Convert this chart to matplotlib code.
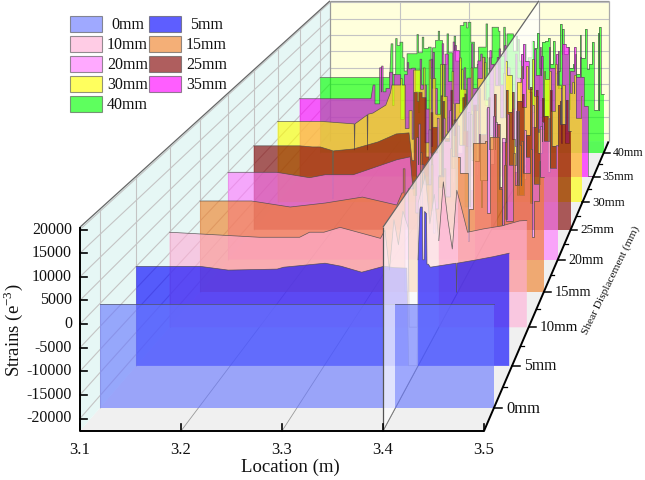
import numpy as np
import matplotlib
matplotlib.use("Agg")
import matplotlib.pyplot as plt
from matplotlib.patches import Rectangle

plt.rcParams['font.family'] = ['Liberation Serif', 'DejaVu Serif']

# ---------- data ----------
spike_loc = [3.200,3.205,3.210,3.215,3.220,3.225,3.230,3.235,3.240,3.245,
             3.250,3.255,3.260,3.265,3.270,3.275,3.280,3.285,3.290,3.295,
             3.300,3.305,3.310,3.315,3.320,3.325,3.330,3.335,3.340,3.345,
             3.350,3.355,3.360,3.365,3.370,3.375,3.380,3.385,3.390,3.395,
             3.400,3.405,3.410,3.415,3.420,3.425,3.430,3.435,3.440,3.445,
             3.450,3.455,3.460,3.465,3.470,3.475,3.480,3.485,3.490,3.495,3.500]

displacements = [0, 5, 10, 15, 20, 25, 30, 35, 40]
labels = ['0mm','5mm','10mm','15mm','20mm','25mm','30mm','35mm','40mm']
colors = ['#6878FF','#0000FF','#FFAFD7','#EF8028','#FF78FF','#800000','#FFFF00','#FF00FF','#00FF00']

loc_0 = [3.1, 3.5]
val_0 = [0, 0]

loc_5 = [3.1,3.168,3.198,3.25,3.257,3.301,3.318,3.34,3.364,3.375,3.388,3.39,3.399,3.4,3.402,3.4025,3.4045,3.405,3.4065,3.407,3.409,3.4095,3.411,
         3.413,3.4405,3.441,3.4415,3.46,3.48,3.497]
val_5 = [0,0,-850,-620,-190,720,40,-1330,40,-300,-400,-22600,-22600,1500,13000,13500,13500,1500,1500,12500,12000,500,500,
         -190,720,-5900,720,1400,2200,3000]

loc_10 = [3.1,3.2,3.245,3.256,3.272,3.29,3.335,3.34,3.345,3.35,3.355,3.36,3.366,3.367,3.376,3.377,3.385,3.39,3.395,3.40,
          3.405,3.41,3.415,3.42,3.425,3.432,3.45,3.47,3.49,3.498]
val_10 = [0,-1200,-1200,0,0,1160,-1460,500,-9000,3000,-3000,5000,1000,-22600,-22600,7000,13500,2000,9000,-2000,
          12000,3000,-4000,10000,6000,0,800,1500,2700,2800]

smooth_loc_15 = [3.1,3.16,3.205,3.246,3.289,3.329]
smooth_val_15 = [0,0,-1500,-500,970,-1010]
spikes_15 = [2000,-22600,3000,5000,-3000,7000,4000,9000,-2000,6000,8000,1000,11000,11000,
             6900,6900,-2000,14300,14300,14300,-3000,16000,16000,3000,9000,-5000,12000,4000,15000,
             7000,13000,0,10000,6000]
needle_loc_15 = [3.3375,3.3575,3.3725,3.3925,3.4125,3.4325,3.4525,3.4725,3.4875]
needle_val_15 = [8000,12000,-8000,13000,-10000,15000,-6000,14000,-9000]

smooth_loc_20 = [3.1,3.159,3.199,3.218,3.252,3.305,3.321]
smooth_val_20 = [0,0,-1400,-630,-630,3260,4000]
spikes_20 = [-6000,9000,2000,-12000,11000,5000,14000,-4000,8000,16000,1000,12000,7000,-9000,15000,
             3000,10000,-2000,17000,6000,13000,-14000,9000,15000,2000,16000,-6000,11000,4000,17500,
             -3000,12000,8000,14000,1000,7000]
needle_loc_20 = [3.3325,3.3475,3.3625,3.3775,3.3925,3.4075,3.4225,3.4375,3.4525,3.4675,3.4825]
needle_val_20 = [12500,-10000,14000,-13000,15500,-9000,14500,-12000,16000,-8000,13000]

smooth_loc_25 = [3.1,3.158,3.174,3.184,3.1995,3.2,3.2005,3.226,3.257,3.28,3.296]
smooth_val_25 = [0,0,-300,-300,-1300,-14300,-1370,-840,1060,3210,3500]
spikes_25 = [-4000,14400,14400,13000,-3000,9000,5000,-8000,12000,2000,15000,7000,-2000,
             13000,4000,-12000,11000,15500,3000,10000,-5000,14000,6000,1000,15000,9000,-7000,
             12000,14000,3000,16000,5000,-2000,13000,8000,15000,0,11000,6000,12500,4000]
needle_loc_25 = [3.3075,3.3225,3.3375,3.3525,3.3675,3.3825,3.3975,3.4125,3.4275,3.4425,3.4575,3.4725,3.4875]
needle_val_25 = [12000,-9000,13500,-10000,14000,-8000,13000,-11000,14500,-9000,15000,-7000,12000]

smooth_loc_30 = [3.1,3.157,3.2005,3.201,3.2015,3.2175,3.218,3.2185,3.225,3.242,3.248]
smooth_val_30 = [0,0,-700,-8000,-700,1800,-8000,2000,2330,4570,8000]
spikes_30 = [10200,10200,10200,10200,-2000,3000,14400,14400,9000,-6000,17200,12000,2000,
             16000,7000,-3000,14000,5000,17800,9000,-7000,15000,3000,12000,18000,6000,-4000,
             16000,10000,1000,17000,13000,-5000,11000,15500,4000,9000,17500,7000,-2000,
             14000,12000,3000,16000,10200,10200,-6000,8000,13000,1000,7000]
needle_loc_30 = [3.2625,3.2775,3.2925,3.3025,3.3175,3.3325,3.3425,3.3575,3.3725,3.3825,3.3975,3.4125,3.4275,3.4425,3.4575,3.4725,3.4875]
needle_val_30 = [12000,-5000,15000,-7000,16000,-4000,14500,-8000,16500,-5000,13500,-7000,15500,-3000,14000,-6000,11000]

smooth_loc_35 = [3.1,3.197]
smooth_val_35 = [0,0]
spikes_35 = [4000,-1500,9000,2000,3000,7700,7000,7000,-6000,7000,8700,8900,2000,11500,4000,-3000,
             11500,3000,-5000,16000,13000,5000,16500,14000,-4000,9000,6000,16000,3000,11000,12000,
             -2000,14000,10000,12000,4000,15500,9000,-3000,13000,6000,16000,11000,2000,14500,
             7000,12500,-5000,15000,9000,13000,3000,16000,15000,8000,15000,6300,6300,-2000,-22600,-22600]
needle_loc_35 = [3.2125,3.2275,3.2475,3.2625,3.2825,3.2975,3.3125,3.3275,3.3475,3.3575,3.3725,3.3875,3.4025,3.4175,3.4275,3.4375,3.4525,3.4675,3.4825]
needle_val_35 = [9500,-2000,10500,-4000,13500,-6000,15500,-3000,13000,-5000,14500,-7000,13000,-4000,15000,-6000,14000,-3000,12000]

smooth_loc_40 = [3.1,3.198]
smooth_val_40 = [0,0]
spikes_40 = [10200,1000,9700,10700,2000,7200,7200,7200,7500,12200,8800,9200,9000,11200,11200,4000,
             13200,7500,12500,5000,15700,16700,16700,10700,3000,9200,9200,16200,6000,15200,15200,
             6500,15200,13200,13200,8000,11500,5000,10000,6000,11000,9000,3000,10700,11000,4000,
             11200,2000,16200,7000,9200,3000,7200,1000,6000,14700,4000,10700,-9900,15200,-5000]
needle_loc_40 = [3.2075,3.2175,3.2375,3.2575,3.2675,3.2875,3.3075,3.3225,3.3375,3.3525,3.3625,3.3775,3.3925,3.4075,3.4225,3.4325,3.4425,3.4575,3.4675,3.4775,3.4925]
needle_val_40 = [11800,6000,13000,3000,14000,2000,15000,4000,1000,14000,3000,12500,2000,13500,12000,1500,14800,4000,12800,2500,13500]


def stepped(smooth_loc, smooth_val, vals, nloc, nval):
    """Turn the spiky tail into vertical-walled plateaus with thin needles."""
    locs = spike_loc[-len(vals):]
    n = len(vals)
    peak = [0 < i < n - 1 and vals[i] > vals[i-1] + 1500 and vals[i] > vals[i+1] + 1500 for i in range(n)]
    out_x, out_y = list(smooth_loc), list(smooth_val)
    left = locs[0]
    for i in range(n):
        if i == n - 1:
            right = locs[i]
        elif peak[i]:
            right = locs[i] + 0.0011
        elif peak[i + 1]:
            right = locs[i + 1] - 0.0011
        else:
            right = (locs[i] + locs[i + 1]) / 2
        out_x += [left, right]
        out_y += [vals[i], vals[i]]
        left = right
    base_x, base_y = np.array(out_x), np.array(out_y)
    keep = np.ones(len(base_x), bool)
    add_x, add_y = [], []
    hw = 0.001
    for l, v in zip(nloc, nval):
        keep &= ~((base_x > l - hw) & (base_x < l + hw))
        a, b = np.interp([l - hw, l + hw], base_x, base_y)
        add_x += [l - hw, l - hw, l + hw, l + hw]
        add_y += [float(a), v, v, float(b)]
    xs = np.r_[base_x[keep], add_x]
    ys = np.r_[base_y[keep], add_y]
    order = np.argsort(xs, kind='stable')
    return xs[order], ys[order]


loc_15, val_15 = stepped(smooth_loc_15, smooth_val_15, spikes_15, needle_loc_15, needle_val_15)
loc_20, val_20 = stepped(smooth_loc_20, smooth_val_20, spikes_20, needle_loc_20, needle_val_20)
loc_25, val_25 = stepped(smooth_loc_25, smooth_val_25, spikes_25, needle_loc_25, needle_val_25)
loc_30, val_30 = stepped(smooth_loc_30, smooth_val_30, spikes_30, needle_loc_30, needle_val_30)
loc_35, val_35 = stepped(smooth_loc_35, smooth_val_35, spikes_35, needle_loc_35, needle_val_35)
loc_40, val_40 = stepped(smooth_loc_40, smooth_val_40, spikes_40, needle_loc_40, needle_val_40)

series = [(loc_0,val_0),(loc_5,val_5),(loc_10,val_10),(loc_15,val_15),(loc_20,val_20),
          (loc_25,val_25),(loc_30,val_30),(loc_35,val_35),(loc_40,val_40)]

strain_ticks = [-20000,-15000,-10000,-5000,0,5000,10000,15000,20000]
loc_ticks = [3.1,3.2,3.3,3.4,3.5]
loc_labels = ['3.1','3.2','3.3','3.4','3.5']

# ---------- scales (perspective box) ----------
X0, X1 = 3.1, 3.5
D0, D1 = -2.5, 42.5
V0, V1 = -22640, 20500
PLANE = 3.4
ALPHA = 0.63


def scale(d):
    return 1 / (1 + 0.01 * (d + 2.5))


def P(loc, d, v):
    loc, d, v = np.broadcast_arrays(np.asarray(loc, float), np.asarray(d, float), np.asarray(v, float))
    s = scale(d)
    x = 80 + (loc - 3.1) * 1010
    y = 324 - v * 0.004725
    return 885.5 + (x - 885.5) * s, -502 + (y + 502) * s


fig = plt.figure(figsize=(6.45, 4.8), dpi=100)
ax = fig.add_axes([0, 0, 1, 1])
ax.set_xlim(0, 645)
ax.set_ylim(480, 0)
ax.axis('off')


def quad(corners, **kw):
    xs, ys = zip(*[P(*c) for c in corners])
    ax.fill([float(a) for a in xs], [float(b) for b in ys], **kw)


def line(a, b, **kw):
    xa, ya = P(*a)
    xb, yb = P(*b)
    ax.plot([float(xa), float(xb)], [float(ya), float(yb)], solid_capstyle='butt', **kw)


# walls
quad([(X0,D0,V0),(X1,D0,V0),(X1,D1,V0),(X0,D1,V0)], fc='#F0F0F0', ec='none', zorder=1)
quad([(X0,D0,V0),(X0,D1,V0),(X0,D1,V1),(X0,D0,V1)], fc='#E6F7F5', ec='none', zorder=1)
quad([(X0,D1,V0),(X1,D1,V0),(X1,D1,V1),(X0,D1,V1)], fc='#FFFFDC', ec='none', zorder=1)

grid = dict(color='#C4C4C4', lw=0.8, zorder=2)
for v in strain_ticks:
    line((X0,D0,v),(X0,D1,v), **grid)
    line((X0,D1,v),(X1,D1,v), **grid)
for d in displacements:
    line((X0,d,V0),(X0,d,V1), **grid)
for x in loc_ticks[1:-1]:
    line((x,D0,V0),(x,D1,V0), color='#999999', lw=0.6, zorder=2)
    line((x,D1,V0),(x,D1,V1), **grid)
line((X0,D0,V1),(X0,D1,V1), color='#666666', lw=0.9, zorder=2)
line((X0,D1,V1),(X1,D1,V1), color='#999999', lw=0.9, zorder=2)
line((X1,D1,V1),(X1,D1,V0), color='#AAAAAA', lw=0.9, zorder=2)
line((X0,D1,V0),(X0,D1,V1), color='#999999', lw=0.9, zorder=2)


def split(loc, val):
    loc, val = np.array(loc, float), np.array(val, float)
    vp = np.interp(PLANE, loc, val)
    left = loc < PLANE
    return (np.r_[loc[left], PLANE], np.r_[val[left], vp]), (np.r_[PLANE, loc[~left]], np.r_[vp, val[~left]])


def slab(loc, val, d, color, z):
    xs, ys = P(loc, d, val)
    xa, ya = P([loc[-1], loc[0]], d, V0)
    ax.fill(np.r_[xs, xa], np.r_[ys, ya], fc=color, alpha=ALPHA, ec='none', zorder=z)
    ax.plot(xs, ys, color='#4A4A4A', lw=0.5, alpha=0.85, zorder=z + 0.1)


# parts behind the x=3.4 plane, far to near
parts = [split(*s) for s in series]
for i in range(len(series) - 1, -1, -1):
    slab(*parts[i][0], displacements[i], colors[i], 10 + (8 - i))

# translucent plane
quad([(PLANE,D0,V0),(PLANE,D1,V0),(PLANE,D1,V1),(PLANE,D0,V1)], fc='white', alpha=0.7, ec='none', zorder=20)
line((PLANE,D0,V0),(PLANE,D0,V1), color='#555555', lw=0.9, zorder=21)
line((PLANE,D0,V1),(PLANE,D1,V1), color='#666666', lw=0.9, zorder=21)
line((PLANE,D0,V0),(PLANE,D1,V0), color='#777777', lw=0.7, zorder=21)
line((PLANE,D1,V0),(PLANE,D1,V1), color='#AAAAAA', lw=0.8, zorder=21)

# parts in front of the plane, far to near
for i in range(len(series) - 1, -1, -1):
    slab(*parts[i][1], displacements[i], colors[i], 30 + (8 - i))

# axes
axis = dict(color='black', lw=1.4, zorder=50)
line((X0,D0,V0),(X0,D0,V1), **axis)
line((X0,D0,V0),(X1,D0,V0), **axis)
line((X1,D0,V0),(X1,D1,V0), **axis)

text = dict(color='#111111', zorder=60)
for v in strain_ticks:
    x, y = P(X0, D0, v)
    ax.plot([float(x), float(x) + 7], [float(y), float(y)], color='black', lw=1.2, zorder=50)
    ax.text(float(x) - 8, float(y), f'{v}', ha='right', va='center', fontsize=11.5, **text)
for loc, lab in zip(loc_ticks, loc_labels):
    x, y = P(loc, D0, V0)
    ax.plot([float(x), float(x)], [float(y), float(y) - 7], color='black', lw=1.2, zorder=50)
    ax.text(float(x), float(y) + 19, lab, ha='center', va='center', fontsize=12, **text)
for d, lab in zip(displacements, labels):
    x, y = P(X1, d, V0)
    x, y, s = float(x), float(y), scale(d)
    ax.plot([x, x + 8.5 * s], [y, y], color='black', lw=1.1, zorder=50)
    ax.text(x + 12.5 * s, y + 0.5, lab, ha='left', va='center', fontsize=12.2 * s, **text)
    if d < 40:
        x, y = P(X1, d + 2.5, V0)
        ax.plot([float(x), float(x) + 4 * s], [float(y), float(y)], color='black', lw=0.9, zorder=50)

ax.text(290, 467, 'Location (m)', ha='center', va='center', fontsize=13.5, **text)
ax.text(13, 330, 'Strains (e$^{\\mathregular{-3}}$)', rotation=90, ha='center', va='center', fontsize=13.5, **text)
ax.text(611, 280, 'Shear Displacement (mm)', rotation=64, ha='center', va='center', fontsize=8.2, **text)

# legend
legend_pos = [(70,16),(149,16),(70,36),(149,36),(70,56),(149,56),(70,76),(149,76),(70,96)]
for (lx, ly), c, lab in zip(legend_pos, colors, labels):
    ax.add_patch(Rectangle((lx, ly), 32, 16, fc=c, alpha=ALPHA, ec='#555555', lw=0.8, zorder=70))
    ax.text(lx + 57.5, ly + 9, lab, ha='center', va='center', fontsize=11.5, **text)

fig.savefig('out.png', dpi=100)
